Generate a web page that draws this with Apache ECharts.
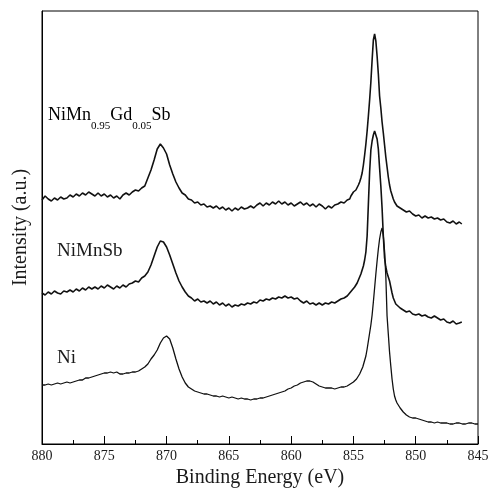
<!DOCTYPE html>
<html>
<head>
<meta charset="utf-8">
<script src="https://cdn.jsdelivr.net/npm/echarts@6/dist/echarts.min.js"></script>
<style>
html,body{margin:0;padding:0;background:#fff;}
#chart{width:489px;height:488px;}
</style>
</head>
<body>
<div id="chart"></div>
<script>
// Binding energy ticks (eV)
const xTicks = [880, 875, 870, 865, 860, 855, 850, 845];

// NiMn0.95Gd0.05Sb spectrum: [binding energy (eV), intensity (a.u.)]
const gdSpectrum = [
[880.00,244],[879.75,248],[879.50,245],[879.25,243],[879.00,246],[878.75,244],[878.50,247],[878.25,245],
[878.00,246],[877.75,249],[877.50,247],[877.25,250],[877.00,248],[876.75,251],[876.50,249],[876.25,252],
[876.00,250],[875.75,248],[875.50,251],[875.25,248],[875.00,250],[874.75,247],[874.50,249],[874.25,246],
[874.00,248],[873.75,245],[873.50,249],[873.25,251],[873.00,249],[872.75,252],[872.50,254],[872.25,253],
[872.00,256],[871.75,258],[871.50,266],[871.25,274],[871.00,284],[870.75,295],[870.50,300],[870.25,296],
[870.00,290],[869.75,279],[869.50,270],[869.25,262],[869.00,256],[868.75,251],[868.50,249],[868.25,245],
[868.00,244],[867.75,241],[867.50,242],[867.25,239],[867.00,240],[866.75,237],[866.50,238],[866.25,236],
[866.00,238],[865.75,235],[865.50,237],[865.25,234],[865.00,236],[864.75,233],[864.50,236],[864.25,234],
[864.00,237],[863.75,235],[863.50,236],[863.25,238],[863.00,236],[862.75,239],[862.50,241],[862.25,238],
[862.00,241],[861.75,239],[861.50,242],[861.25,240],[861.00,243],[860.75,240],[860.50,242],[860.25,239],
[860.00,241],[859.75,238],[859.50,240],[859.25,242],[859.00,239],[858.75,241],[858.50,238],[858.25,240],
[858.00,237],[857.75,240],[857.50,238],[857.25,235],[857.00,238],[856.75,236],[856.50,239],[856.25,240],
[856.00,242],[855.75,241],[855.50,244],[855.40,246],[855.30,245],[855.20,248],[855.10,250],[855.00,252],
[854.90,251],[854.80,254],[854.70,256],[854.60,259],[854.50,262],[854.40,266],[854.30,271],[854.20,279],
[854.10,289],[854.00,300],[853.90,313],[853.80,328],[853.70,344],[853.60,362],[853.50,384],[853.40,404],
[853.30,410],[853.20,403],[853.10,388],[853.00,370],[852.90,348],[852.80,336],[852.70,322],[852.60,311],
[852.50,299],[852.40,287],[852.30,277],[852.20,267],[852.10,259],[852.00,253],[851.90,249],[851.80,245],
[851.70,242],[851.60,240],[851.50,238],[851.25,236],[851.00,234],[850.75,232],[850.50,233],[850.25,230],
[850.00,228],[849.75,229],[849.50,226],[849.25,228],[849.00,226],[848.75,227],[848.50,225],[848.25,226],
[848.00,224],[847.75,225],[847.50,222],[847.25,221],[847.00,223],[846.75,220],[846.50,222],[846.30,220]
];

// NiMnSb spectrum
const niMnSbSpectrum = [
[880.00,151],[879.75,149],[879.50,152],[879.25,150],[879.00,153],[878.75,151],[878.50,150],[878.25,153],
[878.00,152],[877.75,154],[877.50,152],[877.25,155],[877.00,153],[876.75,156],[876.50,154],[876.25,157],
[876.00,155],[875.75,157],[875.50,155],[875.25,158],[875.00,156],[874.75,159],[874.50,157],[874.25,155],
[874.00,158],[873.75,156],[873.50,159],[873.25,157],[873.00,160],[872.75,161],[872.50,163],[872.25,162],
[872.00,166],[871.75,168],[871.50,172],[871.25,179],[871.00,188],[870.75,197],[870.50,203],[870.25,202],
[870.00,197],[869.75,189],[869.50,180],[869.25,171],[869.00,163],[868.75,157],[868.50,152],[868.25,148],
[868.00,146],[867.75,143],[867.50,145],[867.25,142],[867.00,143],[866.75,141],[866.50,143],[866.25,140],
[866.00,142],[865.75,139],[865.50,141],[865.25,138],[865.00,140],[864.75,137],[864.50,139],[864.25,138],
[864.00,140],[863.75,139],[863.50,141],[863.25,140],[863.00,142],[862.75,141],[862.50,144],[862.25,143],
[862.00,145],[861.75,144],[861.50,146],[861.25,145],[861.00,147],[860.75,146],[860.50,148],[860.25,146],
[860.00,147],[859.75,145],[859.50,146],[859.25,143],[859.00,141],[858.75,143],[858.50,140],[858.25,141],
[858.00,139],[857.75,141],[857.50,139],[857.25,141],[857.00,140],[856.75,142],[856.50,141],[856.25,143],
[856.00,145],[855.75,146],[855.50,148],[855.40,149],[855.30,151],[855.20,152],[855.10,154],[855.00,155],
[854.90,157],[854.80,159],[854.70,161],[854.60,164],[854.50,166],[854.40,170],[854.30,174],[854.20,178],
[854.10,184],[854.00,192],[853.90,208],[853.80,240],[853.70,272],[853.60,294],[853.50,303],[853.40,309],
[853.30,313],[853.20,311],[853.10,305],[853.00,295],[852.90,276],[852.80,258],[852.70,236],[852.60,208],
[852.50,186],[852.40,177],[852.30,171],[852.20,167],[852.10,163],[852.00,157],[851.90,151],[851.80,146],
[851.70,143],[851.60,140],[851.50,138],[851.25,136],[851.00,134],[850.75,132],[850.50,133],[850.25,130],
[850.00,129],[849.75,130],[849.50,128],[849.25,129],[849.00,127],[848.75,126],[848.50,128],[848.25,126],
[848.00,124],[847.75,125],[847.50,122],[847.25,121],[847.00,123],[846.75,120],[846.50,121],[846.30,122]
];

// Ni reference spectrum
const niSpectrum = [
[880.00,59],[879.75,59],[879.50,60],[879.25,59],[879.00,60],[878.75,61],[878.50,60],[878.25,61],
[878.00,62],[877.75,61],[877.50,62],[877.25,63],[877.00,64],[876.75,64],[876.50,66],[876.25,66],
[876.00,67],[875.75,68],[875.50,69],[875.25,70],[875.00,71],[874.75,71],[874.50,72],[874.25,71],
[874.00,72],[873.75,70],[873.50,70],[873.25,71],[873.00,71],[872.75,72],[872.50,72],[872.25,73],
[872.00,75],[871.75,77],[871.50,80],[871.25,85],[871.00,89],[870.75,94],[870.50,101],[870.25,106],
[870.00,108],[869.75,105],[869.50,96],[869.25,85],[869.00,75],[868.75,67],[868.50,61],[868.25,57],
[868.00,55],[867.75,53],[867.50,52],[867.25,51],[867.00,50],[866.75,50],[866.50,49],[866.25,48],
[866.00,48],[865.75,47],[865.50,48],[865.25,47],[865.00,46],[864.75,47],[864.50,46],[864.25,45],
[864.00,46],[863.75,45],[863.50,45],[863.25,44],[863.00,45],[862.75,45],[862.50,46],[862.25,46],
[862.00,47],[861.75,48],[861.50,49],[861.25,50],[861.00,51],[860.75,52],[860.50,53],[860.25,55],
[860.00,56],[859.75,58],[859.50,59],[859.25,61],[859.00,62],[858.75,63],[858.50,63],[858.25,62],
[858.00,60],[857.75,58],[857.50,57],[857.25,56],[857.00,56],[856.75,56],[856.50,55],[856.25,56],
[856.00,57],[855.75,57],[855.50,58],[855.25,60],[855.00,62],[854.75,65],[854.50,70],[854.25,77],
[854.00,88],[853.90,95],[853.80,103],[853.70,111],[853.60,119],[853.50,129],[853.40,142],[853.30,156],
[853.20,170],[853.10,183],[853.00,195],[852.90,205],[852.80,212],[852.70,216],[852.60,208],[852.50,193],
[852.40,168],[852.30,128],[852.20,110],[852.10,92],[852.00,78],[851.90,65],[851.80,55],[851.70,48],
[851.60,44],[851.50,41],[851.25,36],[851.00,32],[850.75,29],[850.50,27],[850.25,26],[850.00,26],
[849.75,25],[849.50,24],[849.25,23],[849.00,22],[848.75,22],[848.50,21],[848.25,22],[848.00,21],
[847.75,21],[847.50,21],[847.25,20],[847.00,20],[846.75,21],[846.50,21],[846.25,20],[846.00,20],
[845.75,21],[845.50,21],[845.25,20],[845.00,20]
];

const seriesNames = ['NiMn0.95Gd0.05Sb', 'NiMnSb', 'Ni'];

const FONT = '"Liberation Serif", "Times New Roman", serif';
const chart = echarts.init(document.getElementById('chart'), null, {renderer: 'canvas'});

const richStyle = {
  m: {fontSize: 18, lineHeight: 18, fontFamily: FONT, color: '#1a1a1a', verticalAlign: 'top'},
  s: {fontSize: 11, lineHeight: 11, fontFamily: FONT, color: '#1a1a1a', verticalAlign: 'top', padding: [15, 0, 0, 0]}
};

chart.setOption({
  animation: false,
  backgroundColor: '#fff',
  grid: {left: 42, right: 11, top: 11, bottom: 44, containLabel: false, outerBoundsMode: 'none',
         show: true, borderColor: '#000', borderWidth: 1, backgroundColor: 'transparent'},
  xAxis: {
    type: 'value', inverse: true, min: xTicks[xTicks.length - 1], max: xTicks[0], interval: 5,
    name: 'Binding Energy (eV)', nameLocation: 'middle', nameGap: 21,
    nameTextStyle: {fontSize: 20, fontFamily: FONT, color: '#1a1a1a'},
    axisLine: {show: true, lineStyle: {color: '#000', width: 1}},
    axisTick: {show: true, inside: true, length: 8, lineStyle: {color: '#000'}},
    minorTick: {show: true, splitNumber: 2, length: 4, lineStyle: {color: '#000'}},
    axisLabel: {fontSize: 14, fontFamily: FONT, color: '#1a1a1a', margin: 5, showMinLabel: true, showMaxLabel: true},
    splitLine: {show: false}, minorSplitLine: {show: false}
  },
  yAxis: {
    type: 'value', min: 0, max: 433,
    name: 'Intensity (a.u.)', nameLocation: 'middle', nameGap: 11,
    nameTextStyle: {fontSize: 20, fontFamily: FONT, color: '#1a1a1a'},
    axisLine: {show: true, lineStyle: {color: '#000', width: 1}},
    axisTick: {show: false}, axisLabel: {show: false}, splitLine: {show: false}
  },
  series: [
    {name: seriesNames[0], type: 'line', data: gdSpectrum, showSymbol: false, lineStyle: {color: '#111', width: 1.6}},
    {name: seriesNames[1], type: 'line', data: niMnSbSpectrum, showSymbol: false, lineStyle: {color: '#111', width: 1.6}},
    {name: seriesNames[2], type: 'line', data: niSpectrum, showSymbol: false, lineStyle: {color: '#111', width: 1.3}}
  ],
  graphic: [
    {type: 'text', left: 48, top: 106, style: {text: '{m|NiMn}{s|0.95}{m|Gd}{s|0.05}{m|Sb}', rich: richStyle}},
    {type: 'text', left: 57, top: 242, style: {text: 'NiMnSb', font: '19px ' + FONT, fill: '#1a1a1a'}},
    {type: 'text', left: 57, top: 349, style: {text: 'Ni', font: '19px ' + FONT, fill: '#1a1a1a'}}
  ]
});
</script>
</body>
</html>
